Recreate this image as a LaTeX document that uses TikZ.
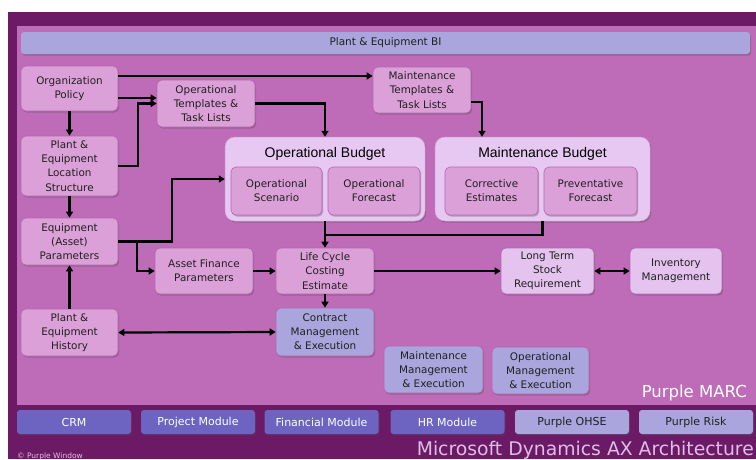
\documentclass[tikz,border=0pt]{standalone}
\usepackage{fontspec}
\setmainfont{DejaVu Sans}
\newfontfamily\arialf{Liberation Sans}
\usetikzlibrary{arrows.meta,shadows,calc}
\definecolor{frameC}{HTML}{6C1A66}
\definecolor{panelC}{HTML}{BE6CB7}
\definecolor{pinkC}{HTML}{DCA0D8}
\definecolor{edgeC}{HTML}{B466B0}
\definecolor{contC}{HTML}{E6C8F2}
\definecolor{lightC}{HTML}{E4C3EF}
\definecolor{lavC}{HTML}{AAA5DC}
\definecolor{blueC}{HTML}{6C64C0}
\definecolor{titleC}{HTML}{DCBEE6}
\definecolor{txtC}{HTML}{202020}
\begin{document}
\begin{tikzpicture}[x=1pt,y=-1pt,
  shd/.style={drop shadow={shadow xshift=1.2pt,shadow yshift=-1.6pt,opacity=0.35,fill=black!70}},
  box/.style={rounded corners=5pt, fill=pinkC, draw=edgeC, line width=0.6pt, align=center,
    inner sep=1pt, text=txtC, font=\fontsize{10.4}{14.2}\selectfont, shd},
  sz/.style 2 args={minimum width=#1pt, minimum height=#2pt},
  cont/.style={rounded corners=10pt, fill=contC, draw=edgeC!60, line width=0.5pt, shd},
  ctitle/.style={font=\arialf\fontsize{14}{16}\selectfont, text=black},
  modB/.style={rounded corners=3pt, fill=blueC, text=white, font=\fontsize{11}{13}\selectfont,
    minimum width=114pt, minimum height=24pt, inner sep=0pt, shd},
  modL/.style={modB, fill=lavC, text=txtC},
  conn/.style={line width=2.2pt, -{Triangle[length=6pt,width=7pt]}},
  conn2/.style={line width=2.2pt, {Triangle[length=6pt,width=7pt]}-{Triangle[length=6pt,width=7pt]}},
  plain/.style={line width=2.2pt}
]
\useasboundingbox (0,0) rectangle (756,459);
\fill[white] (0,0) rectangle (756,459);
\fill[frameC] (8,12) rectangle (756,459);
\fill[panelC] (17,26) rectangle (756,405);

% BI bar
\node[modL, minimum width=729pt, minimum height=22pt, font=\fontsize{10.5}{13}\selectfont] (bi) at (385.5,43) {Plant \& Equipment BI};

% containers
\node[cont, sz={200}{84}] (opb) at (325,179) {};
\node[ctitle] (opbt) at (325,154) {Operational Budget};
\node[cont, sz={215}{84}] (mb) at (542.5,179) {};
\node[ctitle] (mbt) at (542.5,154) {Maintenance Budget};

% nodes
\node[box, sz={97}{45}] (org) at (69.5,88.5) {Organization\\Policy};
\node[box, sz={98}{47}] (optpl) at (206,103.5) {Operational\\Templates \&\\Task Lists};
\node[box, sz={97}{60}] (loc) at (69.5,166) {Plant \&\\Equipment\\Location\\Structure};
\node[box, sz={97}{47}] (eqp) at (69.5,241.5) {Equipment\\(Asset)\\Parameters};
\node[box, sz={97}{47}] (hist) at (69.5,332.5) {Plant \&\\Equipment\\History};
\node[box, sz={98}{46}] (afp) at (204,271) {Asset Finance\\Parameters};
\node[box, sz={98}{46}] (lcc) at (325,271) {Life Cycle\\Costing\\Estimate};
\node[box, sz={98}{48}, fill=lavC] (cme) at (325,332) {Contract\\Management\\\& Execution};
\node[box, sz={98}{46}] (mtpl) at (422,90) {Maintenance\\Templates \&\\Task Lists};
\node[box, sz={91}{48}] (osc) at (276.5,191) {Operational\\Scenario};
\node[box, sz={92}{48}] (ofc) at (374,191) {Operational\\Forecast};
\node[box, sz={93}{48}] (ce) at (491.5,191) {Corrective\\Estimates};
\node[box, sz={93}{48}] (pf) at (590.5,191) {Preventative\\Forecast};
\node[box, sz={93}{46}, fill=lightC] (lts) at (547.5,271) {Long Term\\Stock\\Requirement};
\node[box, sz={92}{46}, fill=lightC] (inv) at (676,271) {Inventory\\Management};
\node[box, sz={99}{47}, fill=lavC] (mme) at (433.5,369.5) {Maintenance\\Management\\\& Execution};
\node[box, sz={97}{47}, fill=lavC] (ome) at (540.5,370.5) {Operational\\Management\\\& Execution};

% modules
\node[modB] (crm) at (74,422) {CRM};
\node[modB] (proj) at (198,422) {Project Module};
\node[modB] (fin) at (321.5,422) {Financial Module};
\node[modB] (hr) at (447.5,422) {HR Module};
\node[modL] (ohse) at (572,422) {Purple OHSE};
\node[modL] (risk) at (696,422) {Purple Risk};

% labels
\node[anchor=base east, text=white, font=\fontsize{16.5}{18}\selectfont, inner sep=0pt] (marc) at (747,397) {Purple MARC};
\node[anchor=base east, text=titleC, font=\fontsize{18.8}{20}\selectfont, inner sep=0pt] (msax) at (754,455) {Microsoft Dynamics AX Architecture};
\node[anchor=base west, text=titleC, font=\fontsize{7.5}{8}\selectfont, inner sep=0pt] (copy) at (17,458.5) {© Purple Window};

% connectors
\draw[conn] ([yshift=12.5pt]org.east) -- ([yshift=12.5pt]org.east -| mtpl.west);
\draw[conn] ([yshift=-9.5pt]org.east) -- ([yshift=-9.5pt]org.east -| optpl.west);
\draw[conn] (loc.east) -- ++(20,0) |- (optpl.west);
\draw[conn] (org.south) -- (loc.north);
\draw[conn] (loc.south) -- (eqp.north);
\draw[conn] (hist.north) -- (eqp.south);
\draw[conn] (optpl.east) -| (opb.north);
\draw[conn] ([yshift=-12pt]mtpl.east) -| ([xshift=-60.5pt]mb.north);
\draw[conn] (eqp.east) -- ++(54,0) |- (opb.west);
\draw[conn] ([xshift=19pt]eqp.east) |- (afp.west);
\draw[conn] (afp.east) -- (lcc.west);
\draw[plain] (mb.south) -- ++(0,14) -| ($(opb.south)!0.5!(lcc.north)$);
\draw[conn] (opb.south) -- (lcc.north);
\draw[conn] (lcc.east) -- (lts.west);
\draw[conn] (lcc.south) -- (cme.north);
\draw[conn2] (hist.east) -- (cme.west);
\draw[conn2] (lts.east) -- (inv.west);
\end{tikzpicture}
\end{document}
